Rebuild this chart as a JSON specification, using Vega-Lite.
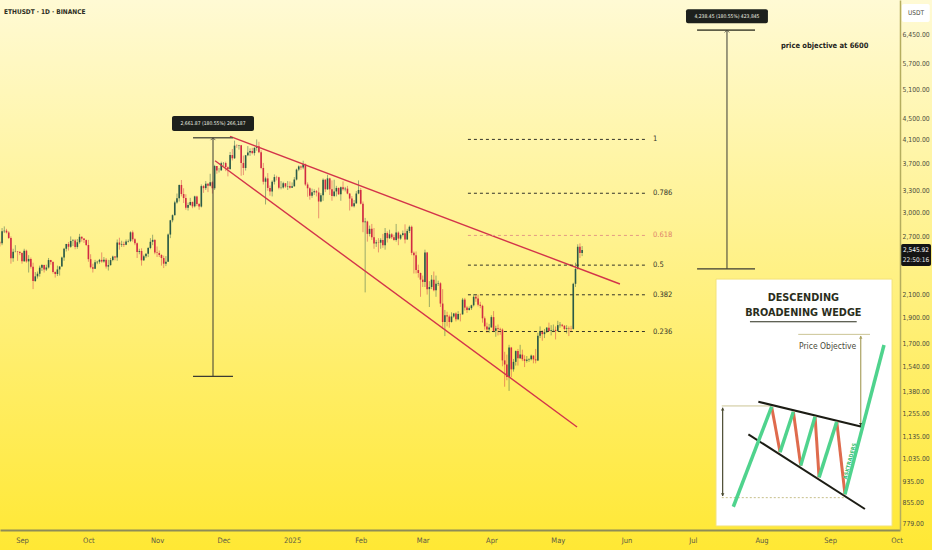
{
  "$schema": "https://vega.github.io/schema/vega-lite/v6.json",
  "width": 900,
  "height": 530,
  "autosize": {"type": "none"},
  "padding": {"left": 0, "top": 0, "right": 32, "bottom": 20},
  "background": "#ffeb3b",
  "config": {
    "view": {"stroke": null},
    "font": "Liberation Sans Narrow, DejaVu Sans Condensed, Liberation Sans, sans-serif"
  },
  "datasets": {
    "candles": [
      {"d":"2024-08-22","o":2630,"h":2645,"l":2585,"c":2622},
      {"d":"2024-08-23","o":2622,"h":2800,"l":2600,"c":2762},
      {"d":"2024-08-24","o":2762,"h":2820,"l":2740,"c":2768},
      {"d":"2024-08-25","o":2768,"h":2790,"l":2735,"c":2747},
      {"d":"2024-08-26","o":2747,"h":2762,"l":2670,"c":2682},
      {"d":"2024-08-27","o":2682,"h":2700,"l":2400,"c":2457},
      {"d":"2024-08-28","o":2457,"h":2560,"l":2420,"c":2528},
      {"d":"2024-08-29","o":2528,"h":2600,"l":2520,"c":2530},
      {"d":"2024-08-30","o":2530,"h":2535,"l":2430,"c":2526},
      {"d":"2024-08-31","o":2526,"h":2530,"l":2490,"c":2513},
      {"d":"2024-09-01","o":2513,"h":2520,"l":2400,"c":2425},
      {"d":"2024-09-02","o":2425,"h":2560,"l":2420,"c":2538},
      {"d":"2024-09-03","o":2538,"h":2550,"l":2410,"c":2424},
      {"d":"2024-09-04","o":2424,"h":2490,"l":2310,"c":2450},
      {"d":"2024-09-05","o":2450,"h":2465,"l":2350,"c":2369},
      {"d":"2024-09-06","o":2369,"h":2410,"l":2150,"c":2226},
      {"d":"2024-09-07","o":2226,"h":2315,"l":2220,"c":2272},
      {"d":"2024-09-08","o":2272,"h":2320,"l":2250,"c":2298},
      {"d":"2024-09-09","o":2298,"h":2380,"l":2270,"c":2359},
      {"d":"2024-09-10","o":2359,"h":2395,"l":2325,"c":2387},
      {"d":"2024-09-11","o":2387,"h":2390,"l":2310,"c":2340},
      {"d":"2024-09-12","o":2340,"h":2390,"l":2325,"c":2361},
      {"d":"2024-09-13","o":2361,"h":2460,"l":2350,"c":2438},
      {"d":"2024-09-14","o":2438,"h":2440,"l":2390,"c":2418},
      {"d":"2024-09-15","o":2418,"h":2425,"l":2300,"c":2316},
      {"d":"2024-09-16","o":2316,"h":2320,"l":2260,"c":2295},
      {"d":"2024-09-17","o":2295,"h":2380,"l":2275,"c":2341},
      {"d":"2024-09-18","o":2341,"h":2375,"l":2280,"c":2371},
      {"d":"2024-09-19","o":2371,"h":2475,"l":2370,"c":2465},
      {"d":"2024-09-20","o":2465,"h":2570,"l":2430,"c":2560},
      {"d":"2024-09-21","o":2560,"h":2615,"l":2530,"c":2613},
      {"d":"2024-09-22","o":2613,"h":2635,"l":2540,"c":2582},
      {"d":"2024-09-23","o":2582,"h":2700,"l":2570,"c":2647},
      {"d":"2024-09-24","o":2647,"h":2670,"l":2590,"c":2653},
      {"d":"2024-09-25","o":2653,"h":2670,"l":2555,"c":2580},
      {"d":"2024-09-26","o":2580,"h":2670,"l":2560,"c":2633},
      {"d":"2024-09-27","o":2633,"h":2730,"l":2615,"c":2696},
      {"d":"2024-09-28","o":2696,"h":2700,"l":2640,"c":2675},
      {"d":"2024-09-29","o":2675,"h":2680,"l":2625,"c":2658},
      {"d":"2024-09-30","o":2658,"h":2665,"l":2590,"c":2602},
      {"d":"2024-10-01","o":2602,"h":2660,"l":2420,"c":2447},
      {"d":"2024-10-02","o":2447,"h":2500,"l":2350,"c":2363},
      {"d":"2024-10-03","o":2363,"h":2400,"l":2310,"c":2349},
      {"d":"2024-10-04","o":2349,"h":2440,"l":2345,"c":2414},
      {"d":"2024-10-05","o":2414,"h":2430,"l":2395,"c":2420},
      {"d":"2024-10-06","o":2420,"h":2450,"l":2400,"c":2440},
      {"d":"2024-10-07","o":2440,"h":2520,"l":2410,"c":2423},
      {"d":"2024-10-08","o":2423,"h":2470,"l":2410,"c":2440},
      {"d":"2024-10-09","o":2440,"h":2460,"l":2350,"c":2370},
      {"d":"2024-10-10","o":2370,"h":2440,"l":2330,"c":2385},
      {"d":"2024-10-11","o":2385,"h":2460,"l":2380,"c":2438},
      {"d":"2024-10-12","o":2438,"h":2485,"l":2425,"c":2475},
      {"d":"2024-10-13","o":2475,"h":2480,"l":2435,"c":2465},
      {"d":"2024-10-14","o":2465,"h":2665,"l":2430,"c":2630},
      {"d":"2024-10-15","o":2630,"h":2685,"l":2550,"c":2605},
      {"d":"2024-10-16","o":2605,"h":2650,"l":2580,"c":2612},
      {"d":"2024-10-17","o":2612,"h":2640,"l":2580,"c":2605},
      {"d":"2024-10-18","o":2605,"h":2665,"l":2600,"c":2642},
      {"d":"2024-10-19","o":2642,"h":2665,"l":2630,"c":2648},
      {"d":"2024-10-20","o":2648,"h":2760,"l":2635,"c":2748},
      {"d":"2024-10-21","o":2748,"h":2770,"l":2640,"c":2667},
      {"d":"2024-10-22","o":2667,"h":2680,"l":2600,"c":2622},
      {"d":"2024-10-23","o":2622,"h":2630,"l":2460,"c":2525},
      {"d":"2024-10-24","o":2525,"h":2560,"l":2500,"c":2535},
      {"d":"2024-10-25","o":2535,"h":2565,"l":2380,"c":2435},
      {"d":"2024-10-26","o":2435,"h":2495,"l":2430,"c":2478},
      {"d":"2024-10-27","o":2478,"h":2510,"l":2460,"c":2505},
      {"d":"2024-10-28","o":2505,"h":2580,"l":2470,"c":2568},
      {"d":"2024-10-29","o":2568,"h":2680,"l":2555,"c":2638},
      {"d":"2024-10-30","o":2638,"h":2720,"l":2600,"c":2660},
      {"d":"2024-10-31","o":2660,"h":2670,"l":2500,"c":2518},
      {"d":"2024-11-01","o":2518,"h":2585,"l":2470,"c":2513},
      {"d":"2024-11-02","o":2513,"h":2540,"l":2470,"c":2492},
      {"d":"2024-11-03","o":2492,"h":2500,"l":2380,"c":2459},
      {"d":"2024-11-04","o":2459,"h":2485,"l":2355,"c":2400},
      {"d":"2024-11-05","o":2400,"h":2480,"l":2375,"c":2421},
      {"d":"2024-11-06","o":2421,"h":2735,"l":2420,"c":2722},
      {"d":"2024-11-07","o":2722,"h":2900,"l":2680,"c":2895},
      {"d":"2024-11-08","o":2895,"h":2970,"l":2870,"c":2960},
      {"d":"2024-11-09","o":2960,"h":3150,"l":2955,"c":3128},
      {"d":"2024-11-10","o":3128,"h":3250,"l":3110,"c":3183},
      {"d":"2024-11-11","o":3183,"h":3380,"l":3140,"c":3373},
      {"d":"2024-11-12","o":3373,"h":3446,"l":3210,"c":3243},
      {"d":"2024-11-13","o":3243,"h":3325,"l":3120,"c":3187},
      {"d":"2024-11-14","o":3187,"h":3240,"l":3030,"c":3058},
      {"d":"2024-11-15","o":3058,"h":3125,"l":3020,"c":3094},
      {"d":"2024-11-16","o":3094,"h":3190,"l":3080,"c":3133},
      {"d":"2024-11-17","o":3133,"h":3140,"l":3050,"c":3075},
      {"d":"2024-11-18","o":3075,"h":3220,"l":3060,"c":3210},
      {"d":"2024-11-19","o":3210,"h":3220,"l":3080,"c":3108},
      {"d":"2024-11-20","o":3108,"h":3120,"l":3030,"c":3072},
      {"d":"2024-11-21","o":3072,"h":3380,"l":3060,"c":3356},
      {"d":"2024-11-22","o":3356,"h":3370,"l":3260,"c":3327},
      {"d":"2024-11-23","o":3327,"h":3430,"l":3300,"c":3391},
      {"d":"2024-11-24","o":3391,"h":3400,"l":3270,"c":3361},
      {"d":"2024-11-25","o":3361,"h":3540,"l":3350,"c":3413},
      {"d":"2024-11-26","o":3413,"h":3430,"l":3250,"c":3325},
      {"d":"2024-11-27","o":3325,"h":3680,"l":3300,"c":3660},
      {"d":"2024-11-28","o":3660,"h":3660,"l":3540,"c":3590},
      {"d":"2024-11-29","o":3590,"h":3630,"l":3560,"c":3592},
      {"d":"2024-11-30","o":3592,"h":3730,"l":3590,"c":3706},
      {"d":"2024-12-01","o":3706,"h":3725,"l":3660,"c":3708},
      {"d":"2024-12-02","o":3708,"h":3730,"l":3580,"c":3643},
      {"d":"2024-12-03","o":3643,"h":3654,"l":3500,"c":3614},
      {"d":"2024-12-04","o":3614,"h":3890,"l":3600,"c":3838},
      {"d":"2024-12-05","o":3838,"h":3940,"l":3750,"c":3785},
      {"d":"2024-12-06","o":3785,"h":4085,"l":3775,"c":3998},
      {"d":"2024-12-07","o":3998,"h":4020,"l":3960,"c":3995},
      {"d":"2024-12-08","o":3995,"h":4010,"l":3930,"c":4006},
      {"d":"2024-12-09","o":4006,"h":4010,"l":3510,"c":3710},
      {"d":"2024-12-10","o":3710,"h":3830,"l":3520,"c":3630},
      {"d":"2024-12-11","o":3630,"h":3840,"l":3590,"c":3835},
      {"d":"2024-12-12","o":3835,"h":3990,"l":3820,"c":3880},
      {"d":"2024-12-13","o":3880,"h":3950,"l":3825,"c":3906},
      {"d":"2024-12-14","o":3906,"h":3960,"l":3850,"c":3871},
      {"d":"2024-12-15","o":3871,"h":3970,"l":3830,"c":3960},
      {"d":"2024-12-16","o":3960,"h":4107,"l":3910,"c":3988},
      {"d":"2024-12-17","o":3988,"h":4065,"l":3870,"c":3885},
      {"d":"2024-12-18","o":3885,"h":3920,"l":3610,"c":3630},
      {"d":"2024-12-19","o":3630,"h":3710,"l":3380,"c":3420},
      {"d":"2024-12-20","o":3420,"h":3495,"l":3100,"c":3470},
      {"d":"2024-12-21","o":3470,"h":3550,"l":3290,"c":3330},
      {"d":"2024-12-22","o":3330,"h":3365,"l":3220,"c":3280},
      {"d":"2024-12-23","o":3280,"h":3440,"l":3210,"c":3420},
      {"d":"2024-12-24","o":3420,"h":3530,"l":3380,"c":3490},
      {"d":"2024-12-25","o":3490,"h":3510,"l":3440,"c":3487},
      {"d":"2024-12-26","o":3487,"h":3495,"l":3310,"c":3331},
      {"d":"2024-12-27","o":3331,"h":3430,"l":3310,"c":3336},
      {"d":"2024-12-28","o":3336,"h":3420,"l":3320,"c":3398},
      {"d":"2024-12-29","o":3398,"h":3400,"l":3330,"c":3350},
      {"d":"2024-12-30","o":3350,"h":3430,"l":3300,"c":3356},
      {"d":"2024-12-31","o":3356,"h":3425,"l":3320,"c":3333},
      {"d":"2025-01-01","o":3333,"h":3410,"l":3330,"c":3353},
      {"d":"2025-01-02","o":3353,"h":3490,"l":3350,"c":3453},
      {"d":"2025-01-03","o":3453,"h":3620,"l":3440,"c":3605},
      {"d":"2025-01-04","o":3605,"h":3670,"l":3580,"c":3655},
      {"d":"2025-01-05","o":3655,"h":3670,"l":3600,"c":3636},
      {"d":"2025-01-06","o":3636,"h":3745,"l":3610,"c":3687},
      {"d":"2025-01-07","o":3687,"h":3700,"l":3360,"c":3380},
      {"d":"2025-01-08","o":3380,"h":3410,"l":3205,"c":3325},
      {"d":"2025-01-09","o":3325,"h":3340,"l":3165,"c":3220},
      {"d":"2025-01-10","o":3220,"h":3320,"l":3190,"c":3268},
      {"d":"2025-01-11","o":3268,"h":3310,"l":3230,"c":3283},
      {"d":"2025-01-12","o":3283,"h":3300,"l":3210,"c":3265},
      {"d":"2025-01-13","o":3265,"h":3335,"l":2920,"c":3140},
      {"d":"2025-01-14","o":3140,"h":3255,"l":3130,"c":3225},
      {"d":"2025-01-15","o":3225,"h":3470,"l":3150,"c":3450},
      {"d":"2025-01-16","o":3450,"h":3460,"l":3270,"c":3310},
      {"d":"2025-01-17","o":3310,"h":3525,"l":3300,"c":3470},
      {"d":"2025-01-18","o":3470,"h":3480,"l":3230,"c":3310},
      {"d":"2025-01-19","o":3310,"h":3440,"l":3150,"c":3215},
      {"d":"2025-01-20","o":3215,"h":3450,"l":3200,"c":3280},
      {"d":"2025-01-21","o":3280,"h":3360,"l":3210,"c":3330},
      {"d":"2025-01-22","o":3330,"h":3335,"l":3230,"c":3240},
      {"d":"2025-01-23","o":3240,"h":3350,"l":3150,"c":3340},
      {"d":"2025-01-24","o":3340,"h":3425,"l":3290,"c":3310},
      {"d":"2025-01-25","o":3310,"h":3345,"l":3280,"c":3320},
      {"d":"2025-01-26","o":3320,"h":3360,"l":3240,"c":3250},
      {"d":"2025-01-27","o":3250,"h":3255,"l":3020,"c":3180},
      {"d":"2025-01-28","o":3180,"h":3215,"l":3065,"c":3075},
      {"d":"2025-01-29","o":3075,"h":3160,"l":3060,"c":3115},
      {"d":"2025-01-30","o":3115,"h":3285,"l":3110,"c":3250},
      {"d":"2025-01-31","o":3250,"h":3440,"l":3240,"c":3300},
      {"d":"2025-02-01","o":3300,"h":3330,"l":3100,"c":3110},
      {"d":"2025-02-02","o":3110,"h":3140,"l":2750,"c":2870},
      {"d":"2025-02-03","o":2870,"h":2925,"l":2120,"c":2880},
      {"d":"2025-02-04","o":2880,"h":2890,"l":2640,"c":2730},
      {"d":"2025-02-05","o":2730,"h":2830,"l":2700,"c":2790},
      {"d":"2025-02-06","o":2790,"h":2850,"l":2660,"c":2690},
      {"d":"2025-02-07","o":2690,"h":2800,"l":2560,"c":2620},
      {"d":"2025-02-08","o":2620,"h":2660,"l":2580,"c":2632},
      {"d":"2025-02-09","o":2632,"h":2680,"l":2520,"c":2628},
      {"d":"2025-02-10","o":2628,"h":2680,"l":2560,"c":2660},
      {"d":"2025-02-11","o":2660,"h":2730,"l":2570,"c":2600},
      {"d":"2025-02-12","o":2600,"h":2800,"l":2550,"c":2740},
      {"d":"2025-02-13","o":2740,"h":2760,"l":2630,"c":2680},
      {"d":"2025-02-14","o":2680,"h":2780,"l":2670,"c":2725},
      {"d":"2025-02-15","o":2725,"h":2740,"l":2670,"c":2690},
      {"d":"2025-02-16","o":2690,"h":2720,"l":2650,"c":2660},
      {"d":"2025-02-17","o":2660,"h":2850,"l":2640,"c":2745},
      {"d":"2025-02-18","o":2745,"h":2760,"l":2600,"c":2675},
      {"d":"2025-02-19","o":2675,"h":2730,"l":2660,"c":2716},
      {"d":"2025-02-20","o":2716,"h":2770,"l":2700,"c":2736},
      {"d":"2025-02-21","o":2736,"h":2845,"l":2620,"c":2665},
      {"d":"2025-02-22","o":2665,"h":2790,"l":2660,"c":2765},
      {"d":"2025-02-23","o":2765,"h":2830,"l":2740,"c":2815},
      {"d":"2025-02-24","o":2815,"h":2830,"l":2490,"c":2515},
      {"d":"2025-02-25","o":2515,"h":2530,"l":2300,"c":2490},
      {"d":"2025-02-26","o":2490,"h":2530,"l":2300,"c":2335},
      {"d":"2025-02-27","o":2335,"h":2390,"l":2260,"c":2305},
      {"d":"2025-02-28","o":2305,"h":2310,"l":2080,"c":2240},
      {"d":"2025-03-01","o":2240,"h":2280,"l":2170,"c":2218},
      {"d":"2025-03-02","o":2218,"h":2550,"l":2170,"c":2520},
      {"d":"2025-03-03","o":2520,"h":2525,"l":2100,"c":2150},
      {"d":"2025-03-04","o":2150,"h":2225,"l":1990,"c":2170},
      {"d":"2025-03-05","o":2170,"h":2285,"l":2150,"c":2240},
      {"d":"2025-03-06","o":2240,"h":2320,"l":2130,"c":2140},
      {"d":"2025-03-07","o":2140,"h":2280,"l":2080,"c":2200},
      {"d":"2025-03-08","o":2200,"h":2230,"l":2180,"c":2205},
      {"d":"2025-03-09","o":2205,"h":2215,"l":1990,"c":2020},
      {"d":"2025-03-10","o":2020,"h":2150,"l":1810,"c":1865},
      {"d":"2025-03-11","o":1865,"h":1965,"l":1755,"c":1920},
      {"d":"2025-03-12","o":1920,"h":1950,"l":1830,"c":1910},
      {"d":"2025-03-13","o":1910,"h":1925,"l":1820,"c":1865},
      {"d":"2025-03-14","o":1865,"h":1945,"l":1860,"c":1910},
      {"d":"2025-03-15","o":1910,"h":1940,"l":1900,"c":1935},
      {"d":"2025-03-16","o":1935,"h":1945,"l":1870,"c":1887},
      {"d":"2025-03-17","o":1887,"h":1955,"l":1880,"c":1930},
      {"d":"2025-03-18","o":1930,"h":1935,"l":1870,"c":1928},
      {"d":"2025-03-19","o":1928,"h":2070,"l":1925,"c":2055},
      {"d":"2025-03-20","o":2055,"h":2070,"l":1960,"c":1985},
      {"d":"2025-03-21","o":1985,"h":2000,"l":1940,"c":1965},
      {"d":"2025-03-22","o":1965,"h":1995,"l":1960,"c":1980},
      {"d":"2025-03-23","o":1980,"h":2010,"l":1965,"c":2005},
      {"d":"2025-03-24","o":2005,"h":2105,"l":1995,"c":2080},
      {"d":"2025-03-25","o":2080,"h":2095,"l":2035,"c":2065},
      {"d":"2025-03-26","o":2065,"h":2100,"l":1995,"c":2010},
      {"d":"2025-03-27","o":2010,"h":2035,"l":1980,"c":2000},
      {"d":"2025-03-28","o":2000,"h":2010,"l":1860,"c":1895},
      {"d":"2025-03-29","o":1895,"h":1910,"l":1805,"c":1830},
      {"d":"2025-03-30","o":1830,"h":1860,"l":1780,"c":1805},
      {"d":"2025-03-31","o":1805,"h":1850,"l":1780,"c":1822},
      {"d":"2025-04-01","o":1822,"h":1920,"l":1820,"c":1905},
      {"d":"2025-04-02","o":1905,"h":1955,"l":1785,"c":1795},
      {"d":"2025-04-03","o":1795,"h":1835,"l":1750,"c":1815},
      {"d":"2025-04-04","o":1815,"h":1845,"l":1760,"c":1810},
      {"d":"2025-04-05","o":1810,"h":1820,"l":1765,"c":1805},
      {"d":"2025-04-06","o":1805,"h":1815,"l":1540,"c":1580},
      {"d":"2025-04-07","o":1580,"h":1640,"l":1410,"c":1552},
      {"d":"2025-04-08","o":1552,"h":1620,"l":1450,"c":1470},
      {"d":"2025-04-09","o":1470,"h":1690,"l":1385,"c":1670},
      {"d":"2025-04-10","o":1670,"h":1675,"l":1470,"c":1520},
      {"d":"2025-04-11","o":1520,"h":1590,"l":1505,"c":1570},
      {"d":"2025-04-12","o":1570,"h":1650,"l":1545,"c":1645},
      {"d":"2025-04-13","o":1645,"h":1660,"l":1545,"c":1595},
      {"d":"2025-04-14","o":1595,"h":1690,"l":1590,"c":1620},
      {"d":"2025-04-15","o":1620,"h":1655,"l":1575,"c":1588},
      {"d":"2025-04-16","o":1588,"h":1615,"l":1535,"c":1577},
      {"d":"2025-04-17","o":1577,"h":1610,"l":1565,"c":1585},
      {"d":"2025-04-18","o":1585,"h":1595,"l":1570,"c":1588},
      {"d":"2025-04-19","o":1588,"h":1620,"l":1580,"c":1613},
      {"d":"2025-04-20","o":1613,"h":1615,"l":1560,"c":1587},
      {"d":"2025-04-21","o":1587,"h":1660,"l":1560,"c":1580},
      {"d":"2025-04-22","o":1580,"h":1780,"l":1575,"c":1757},
      {"d":"2025-04-23","o":1757,"h":1830,"l":1740,"c":1795},
      {"d":"2025-04-24","o":1795,"h":1800,"l":1720,"c":1770},
      {"d":"2025-04-25","o":1770,"h":1810,"l":1740,"c":1785},
      {"d":"2025-04-26","o":1785,"h":1825,"l":1780,"c":1820},
      {"d":"2025-04-27","o":1820,"h":1860,"l":1790,"c":1795},
      {"d":"2025-04-28","o":1795,"h":1840,"l":1760,"c":1800},
      {"d":"2025-04-29","o":1800,"h":1845,"l":1785,"c":1803},
      {"d":"2025-04-30","o":1803,"h":1830,"l":1730,"c":1795},
      {"d":"2025-05-01","o":1795,"h":1875,"l":1790,"c":1840},
      {"d":"2025-05-02","o":1840,"h":1865,"l":1820,"c":1843},
      {"d":"2025-05-03","o":1843,"h":1850,"l":1825,"c":1835},
      {"d":"2025-05-04","o":1835,"h":1840,"l":1800,"c":1810},
      {"d":"2025-05-05","o":1810,"h":1840,"l":1775,"c":1815},
      {"d":"2025-05-06","o":1815,"h":1830,"l":1755,"c":1812},
      {"d":"2025-05-07","o":1812,"h":1835,"l":1785,"c":1810},
      {"d":"2025-05-08","o":1810,"h":2210,"l":1805,"c":2200},
      {"d":"2025-05-09","o":2200,"h":2410,"l":2170,"c":2346},
      {"d":"2025-05-10","o":2346,"h":2610,"l":2340,"c":2582},
      {"d":"2025-05-11","o":2582,"h":2620,"l":2460,"c":2514},
      {"d":"2025-05-12","o":2514,"h":2590,"l":2480,"c":2546}
    ],
    "fib": [
      {"lv":"1","p":4107},
      {"lv":"0.786","p":3254},
      {"lv":"0.618","p":2712},
      {"lv":"0.5","p":2385},
      {"lv":"0.382","p":2098},
      {"lv":"0.236","p":1790}
    ],
    "measure": [
      {"d":"2024-11-26T06:30:00Z","d0":"2024-11-17T06:00:00Z","d1":"2024-12-05T07:00:00Z","p0":1474,"p1":4136},
      {"d":"2025-07-16T10:00:00Z","d0":"2025-07-02T22:00:00Z","d1":"2025-07-29T02:00:00Z","p0":2347.5,"p1":6586}
    ],
    "badges": [
      {"x0":"2024-11-07T18:00:00Z","x1":"2024-12-14T19:00:00Z","y0":4259,"y1":4544,"xc":"2024-11-26T06:30:00Z","yc":4400,"t":"2,661.87 (180.55%) 266,187"},
      {"x0":"2025-06-27T22:00:00Z","x1":"2025-08-03T22:00:00Z","y0":6786,"y1":7209,"xc":"2025-07-16T10:00:00Z","yc":6994,"t":"4,238.45 (180.55%) 423,845"}
    ]
  },
  "layer": [
    {
      "data": {"values": [{"u0": -409.14, "u1": 123.43, "v0": -13.71, "v1": 300.57}]},
      "mark": {
        "type": "rect",
        "fill": {
          "gradient": "linear", "x1": 0, "y1": 0, "x2": 0, "y2": 1,
          "stops": [
            {"offset": 0, "color": "#fffad4"},
            {"offset": 0.5, "color": "#fff184"},
            {"offset": 1, "color": "#ffe834"}
          ]
        }
      },
      "encoding": {
        "x": {"field": "u0", "type": "quantitative", "scale": {"domain": [-409.14, 105.14], "nice": false, "zero": false, "padding": 0}, "axis": null},
        "x2": {"field": "u1"},
        "y": {"field": "v0", "type": "quantitative", "scale": {"domain": [-2.286, 300.57], "nice": false, "zero": false, "padding": 0}, "axis": null},
        "y2": {"field": "v1"}
      }
    },
    {
      "layer": [
        {
          "data": {"name": "candles"},
          "mark": {"type": "rule", "strokeWidth": 0.8, "opacity": 0.6},
          "encoding": {
            "x": {
              "field": "d", "type": "temporal",
              "scale": {"type": "utc", "domain": [1724290243200, 1759412448000], "nice": false, "padding": 0},
              "axis": {
                "values": [1725148800000, 1727740800000, 1730419200000, 1733011200000, 1735689600000, 1738368000000, 1740787200000, 1743465600000, 1746057600000, 1748736000000, 1751328000000, 1754006400000, 1756684800000, 1759276800000],
                "labelExpr": "utcmonth(datum.value) == 0 ? utcFormat(datum.value, '%Y') : utcFormat(datum.value, '%b')",
                "title": null, "grid": false, "ticks": false, "zindex": 2,
                "domainColor": "#8e8b57", "domainWidth": 2,
                "labelColor": "#5b5a45", "labelFontSize": 7.5, "labelPadding": 6,
                "labelFlush": false, "labelOverlap": false
              }
            },
            "y": {
              "field": "l", "type": "quantitative",
              "scale": {"type": "log", "domain": [759, 7503], "nice": false, "padding": 0},
              "axis": {
                "orient": "right",
                "values": [779, 855, 935, 1035, 1135, 1255, 1380, 1540, 1700, 1900, 2100, 2700, 3000, 3300, 3700, 4100, 4500, 5100, 5700, 6450],
                "format": ",.2f", "title": null, "grid": false, "ticks": false, "zindex": 2,
                "domainColor": "#b5ad5e", "domainWidth": 1.5,
                "labelColor": "#4d4c3c", "labelFontSize": 6.8, "labelPadding": 2,
                "labelAlign": "left", "labelBaseline": "middle"
              }
            },
            "y2": {"field": "h"},
            "color": {"condition": {"test": "datum.c >= datum.o", "value": "#2a5a47"}, "value": "#d12a43"}
          }
        },
        {
          "data": {"name": "candles"},
          "mark": {"type": "bar", "size": 1.6},
          "encoding": {
            "x": {"field": "d", "type": "temporal", "scale": {"type": "utc"}},
            "y": {"field": "o", "type": "quantitative", "scale": {"type": "log"}},
            "y2": {"field": "c"},
            "color": {"condition": {"test": "datum.c >= datum.o", "value": "#2a5a47"}, "value": "#d12a43"}
          }
        },
        {
          "data": {"values": [
            {"k": "upper", "d": "2024-12-03T23:00:00Z", "p": 4161},
            {"k": "upper", "d": "2025-05-29T02:00:00Z", "p": 2198},
            {"k": "lower", "d": "2024-11-27T05:00:00Z", "p": 3745},
            {"k": "lower", "d": "2025-05-09T17:00:00Z", "p": 1185}
          ]},
          "mark": {"type": "line", "color": "#d3344a", "strokeWidth": 1.4},
          "encoding": {
            "x": {"field": "d", "type": "temporal", "scale": {"type": "utc"}},
            "y": {"field": "p", "type": "quantitative", "scale": {"type": "log"}},
            "detail": {"field": "k"}
          }
        },
        {
          "data": {"name": "fib"},
          "mark": {"type": "rule", "strokeDash": [3, 3], "strokeWidth": 1},
          "encoding": {
            "x": {"datum": {"year": 2025, "month": 3, "date": 21, "hours": 10, "utc": true}, "type": "temporal", "scale": {"type": "utc"}},
            "x2": {"datum": {"year": 2025, "month": 6, "date": 10, "hours": 17, "utc": true}},
            "y": {"field": "p", "type": "quantitative", "scale": {"type": "log"}},
            "color": {"condition": {"test": "datum.lv == '0.618'", "value": "#e39a84"}, "value": "#34342a"}
          }
        },
        {
          "data": {"name": "fib"},
          "mark": {"type": "text", "align": "left", "baseline": "middle", "fontSize": 7.5},
          "encoding": {
            "x": {"datum": {"year": 2025, "month": 6, "date": 13, "utc": true}, "type": "temporal", "scale": {"type": "utc"}},
            "y": {"field": "p", "type": "quantitative", "scale": {"type": "log"}},
            "text": {"field": "lv"},
            "color": {"condition": {"test": "datum.lv == '0.618'", "value": "#e0826a"}, "value": "#34342a"}
          }
        },
        {
          "data": {"name": "measure"},
          "mark": {"type": "rule", "color": "#3b3b33", "strokeWidth": 1},
          "encoding": {
            "x": {"field": "d", "type": "temporal", "scale": {"type": "utc"}},
            "y": {"field": "p0", "type": "quantitative", "scale": {"type": "log"}},
            "y2": {"field": "p1"}
          }
        },
        {
          "data": {"name": "measure"},
          "mark": {"type": "rule", "color": "#3b3b33", "strokeWidth": 1.2},
          "encoding": {
            "x": {"field": "d0", "type": "temporal", "scale": {"type": "utc"}},
            "x2": {"field": "d1"},
            "y": {"field": "p0", "type": "quantitative", "scale": {"type": "log"}}
          }
        },
        {
          "data": {"name": "measure"},
          "mark": {"type": "rule", "color": "#5f5e48", "strokeWidth": 1.6},
          "encoding": {
            "x": {"field": "d0", "type": "temporal", "scale": {"type": "utc"}},
            "x2": {"field": "d1"},
            "y": {"field": "p1", "type": "quantitative", "scale": {"type": "log"}}
          }
        },
        {
          "data": {"name": "measure"},
          "mark": {"type": "point", "shape": "M-1,1L0,0L1,1", "filled": false, "size": 22, "color": "#3b3b33", "strokeWidth": 1},
          "encoding": {
            "x": {"field": "d", "type": "temporal", "scale": {"type": "utc"}},
            "y": {"field": "p1", "type": "quantitative", "scale": {"type": "log"}}
          }
        },
        {
          "data": {"name": "badges"},
          "mark": {"type": "rect", "fill": "#1d201c", "cornerRadius": 2},
          "encoding": {
            "x": {"field": "x0", "type": "temporal", "scale": {"type": "utc"}},
            "x2": {"field": "x1"},
            "y": {"field": "y0", "type": "quantitative", "scale": {"type": "log"}},
            "y2": {"field": "y1"}
          }
        },
        {
          "data": {"name": "badges"},
          "mark": {"type": "text", "fill": "#f1f1e6", "fontSize": 5, "align": "center", "baseline": "middle"},
          "encoding": {
            "x": {"field": "xc", "type": "temporal", "scale": {"type": "utc"}},
            "y": {"field": "yc", "type": "quantitative", "scale": {"type": "log"}},
            "text": {"field": "t"}
          }
        },
        {
          "data": {"values": [
            {"d": "2025-08-09T19:00:00Z", "p": 6150, "t": "price objective at 6600"}
          ]},
          "mark": {"type": "text", "align": "left", "baseline": "middle", "fontSize": 7.5, "fontWeight": "bold", "color": "#24241c"},
          "encoding": {
            "x": {"field": "d", "type": "temporal", "scale": {"type": "utc"}},
            "y": {"field": "p", "type": "quantitative", "scale": {"type": "log"}},
            "text": {"field": "t"}
          }
        },
        {
          "data": {"values": [
            {"d": "2024-08-23T21:00:00Z", "p": 7124, "t": "ETHUSDT · 1D · BINANCE"}
          ]},
          "mark": {"type": "text", "align": "left", "baseline": "middle", "fontSize": 6.5, "fontWeight": "bold", "color": "#2d2d22"},
          "encoding": {
            "x": {"field": "d", "type": "temporal", "scale": {"type": "utc"}},
            "y": {"field": "p", "type": "quantitative", "scale": {"type": "log"}},
            "text": {"field": "t"}
          }
        },
        {
          "data": {"values": [
            {"x0": "2025-10-03T00:00:00Z", "x1": "2025-10-16T14:00:00Z", "y0": 2375, "y1": 2613, "f": "#141414"},
            {"x0": "2025-10-03T10:00:00Z", "x1": "2025-10-16T00:00:00Z", "y0": 6823, "y1": 7374, "f": "#ffffff"}
          ]},
          "mark": {"type": "rect", "cornerRadius": 2},
          "encoding": {
            "x": {"field": "x0", "type": "temporal", "scale": {"type": "utc"}},
            "x2": {"field": "x1"},
            "y": {"field": "y0", "type": "quantitative", "scale": {"type": "log"}},
            "y2": {"field": "y1"},
            "fill": {"field": "f", "type": "nominal", "scale": null}
          }
        },
        {
          "data": {"values": [
            {"d": "2025-10-09T19:00:00Z", "p": 2546, "t": "2,545.92", "f": "#ffffff", "w": "bold"},
            {"d": "2025-10-09T19:00:00Z", "p": 2438, "t": "22:50:16", "f": "#e8e8e8", "w": "normal"},
            {"d": "2025-10-09T19:00:00Z", "p": 7093, "t": "USDT", "f": "#4a4a40", "w": "normal"}
          ]},
          "mark": {"type": "text", "align": "center", "baseline": "middle", "fontSize": 6.5},
          "encoding": {
            "x": {"field": "d", "type": "temporal", "scale": {"type": "utc"}},
            "y": {"field": "p", "type": "quantitative", "scale": {"type": "log"}},
            "text": {"field": "t"},
            "fill": {"field": "f", "type": "nominal", "scale": null},
            "fontWeight": {"field": "w", "type": "nominal", "scale": null}
          }
        }
      ]
    },
    {
      "layer": [
        {
          "data": {"values": [{"u0": 0, "u1": 100.6, "v0": 0, "v1": 141.1}]},
          "mark": {"type": "rect", "fill": "#ffffff", "stroke": "#f3e27a", "strokeWidth": 1},
          "encoding": {
            "x": {"field": "u0", "type": "quantitative", "scale": {"domain": [-409.14, 105.14], "nice": false, "zero": false, "padding": 0}, "axis": null},
            "x2": {"field": "u1"},
            "y": {"field": "v0", "type": "quantitative", "scale": {"domain": [-2.286, 300.57], "nice": false, "zero": false, "padding": 0}, "axis": null},
            "y2": {"field": "v1"}
          }
        },
        {
          "data": {"values": [
            {"u0": 47.0, "v0": 109.5, "u1": 88.0, "v1": 109.5},
            {"u0": 3.3, "v0": 68.6, "u1": 31.8, "v1": 68.6}
          ]},
          "mark": {"type": "rule", "color": "#cbc495", "strokeWidth": 1},
          "encoding": {
            "x": {"field": "u0", "type": "quantitative"},
            "x2": {"field": "u1"},
            "y": {"field": "v0", "type": "quantitative"},
            "y2": {"field": "v1"}
          }
        },
        {
          "data": {"values": [
            {"u0": 3.3, "v0": 16.2, "u1": 74.7, "v1": 16.2}
          ]},
          "mark": {"type": "rule", "color": "#c7bf8a", "strokeWidth": 1, "strokeDash": [2, 2]},
          "encoding": {
            "x": {"field": "u0", "type": "quantitative"},
            "x2": {"field": "u1"},
            "y": {"field": "v0", "type": "quantitative"},
            "y2": {"field": "v1"}
          }
        },
        {
          "data": {"values": [
            {"u0": 82.7, "v0": 108.5, "u1": 82.7, "v1": 57.2, "col": "#aaa263"},
            {"u0": 3.8, "v0": 67.6, "u1": 3.8, "v1": 17.2, "col": "#4a4a30"}
          ]},
          "mark": {"type": "rule", "strokeWidth": 1.2},
          "encoding": {
            "x": {"field": "u0", "type": "quantitative"},
            "x2": {"field": "u1"},
            "y": {"field": "v0", "type": "quantitative"},
            "y2": {"field": "v1"},
            "color": {"field": "col", "type": "nominal", "scale": null}
          }
        },
        {
          "data": {"values": [
            {"u": 82.7, "v": 107.8, "s": "triangle-up", "col": "#aaa263"},
            {"u": 82.7, "v": 58.0, "s": "triangle-down", "col": "#3a3a28"},
            {"u": 3.8, "v": 66.9, "s": "triangle-up", "col": "#4a4a30"},
            {"u": 3.8, "v": 17.9, "s": "triangle-down", "col": "#4a4a30"}
          ]},
          "mark": {"type": "point", "filled": true, "size": 12, "opacity": 1},
          "encoding": {
            "x": {"field": "u", "type": "quantitative"},
            "y": {"field": "v", "type": "quantitative"},
            "shape": {"field": "s", "type": "nominal", "scale": null},
            "color": {"field": "col", "type": "nominal", "scale": null}
          }
        },
        {
          "data": {"values": [
            {"u0": 24.2, "v0": 71.0, "u1": 83.3, "v1": 56.7},
            {"u0": 18.5, "v0": 52.4, "u1": 85.1, "v1": 9.7}
          ]},
          "mark": {"type": "rule", "color": "#1c1c14", "strokeWidth": 2},
          "encoding": {
            "x": {"field": "u0", "type": "quantitative"},
            "x2": {"field": "u1"},
            "y": {"field": "v0", "type": "quantitative"},
            "y2": {"field": "v1"}
          }
        },
        {
          "data": {"values": [
            {"u0": 31.8, "v0": 68.2, "u1": 36.6, "v1": 42.1},
            {"u0": 44.2, "v0": 65.3, "u1": 48.4, "v1": 34.5},
            {"u0": 56.6, "v0": 62.5, "u1": 58.9, "v1": 27.8},
            {"u0": 69.0, "v0": 59.6, "u1": 73.7, "v1": 18.1}
          ]},
          "mark": {"type": "rule", "color": "#df6b4d", "strokeWidth": 3},
          "encoding": {
            "x": {"field": "u0", "type": "quantitative"},
            "x2": {"field": "u1"},
            "y": {"field": "v0", "type": "quantitative"},
            "y2": {"field": "v1"}
          }
        },
        {
          "data": {"values": [
            {"u0": 9.9, "v0": 11.0, "u1": 31.8, "v1": 68.2},
            {"u0": 36.6, "v0": 42.1, "u1": 44.2, "v1": 65.3},
            {"u0": 48.4, "v0": 34.5, "u1": 56.6, "v1": 62.5},
            {"u0": 58.9, "v0": 27.8, "u1": 69.0, "v1": 59.6},
            {"u0": 73.7, "v0": 18.1, "u1": 96.0, "v1": 103.4}
          ]},
          "mark": {"type": "rule", "color": "#4fd38d", "strokeWidth": 3.5},
          "encoding": {
            "x": {"field": "u0", "type": "quantitative"},
            "x2": {"field": "u1"},
            "y": {"field": "v0", "type": "quantitative"},
            "y2": {"field": "v1"}
          }
        },
        {
          "data": {"values": [
            {"u0": 19.4, "v0": 116.7, "u1": 80.4, "v1": 116.7}
          ]},
          "mark": {"type": "rule", "color": "#2b2e1c", "strokeWidth": 1.2},
          "encoding": {
            "x": {"field": "u0", "type": "quantitative"},
            "x2": {"field": "u1"},
            "y": {"field": "v0", "type": "quantitative"},
            "y2": {"field": "v1"}
          }
        },
        {
          "data": {"values": [
            {"u": 49.9, "v": 130.1, "t": "DESCENDING"},
            {"u": 49.9, "v": 121.5, "t": "BROADENING WEDGE"}
          ]},
          "mark": {"type": "text", "align": "center", "baseline": "middle", "fontSize": 10.8, "fontWeight": "bold", "color": "#2b2e1c"},
          "encoding": {
            "x": {"field": "u", "type": "quantitative"},
            "y": {"field": "v", "type": "quantitative"},
            "text": {"field": "t"}
          }
        },
        {
          "data": {"values": [
            {"u": 47.4, "v": 103.0, "t": "Price Objective"}
          ]},
          "mark": {"type": "text", "align": "left", "baseline": "middle", "fontSize": 8.5, "color": "#4a4a3a"},
          "encoding": {
            "x": {"field": "u", "type": "quantitative"},
            "y": {"field": "v", "type": "quantitative"},
            "text": {"field": "t"}
          }
        },
        {
          "data": {"values": [
            {"u": 76.4, "v": 37.1, "t": "ASKTRADERS"}
          ]},
          "mark": {"type": "text", "align": "center", "baseline": "middle", "fontSize": 5.5, "fontWeight": "bold", "angle": 285, "color": "#3dbf74"},
          "encoding": {
            "x": {"field": "u", "type": "quantitative"},
            "y": {"field": "v", "type": "quantitative"},
            "text": {"field": "t"}
          }
        }
      ]
    }
  ],
  "resolve": {"scale": {"x": "independent", "y": "independent"}}
}
